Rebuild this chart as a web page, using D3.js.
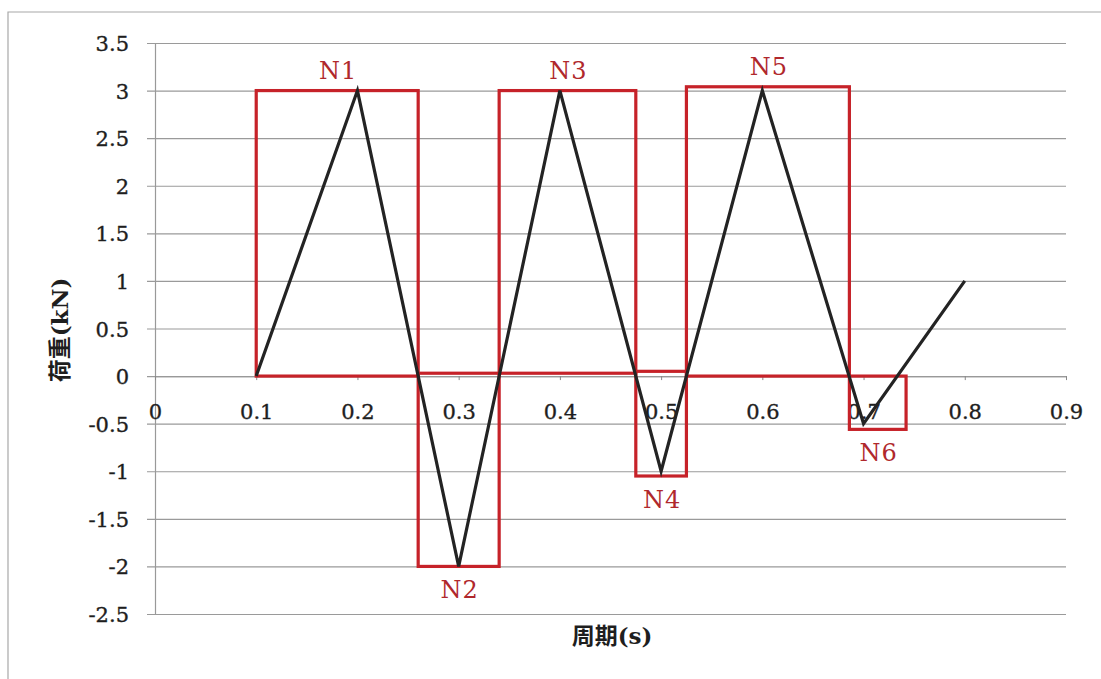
<!DOCTYPE html>
<html>
<head>
<meta charset="utf-8">
<script src="https://cdn.jsdelivr.net/npm/d3@7"></script>
<style>
  html, body { margin: 0; padding: 0; background: #fff; }
  svg { display: block; }
</style>
</head>
<body>
<script>
// Load history: time (s) and load (kN)
const times = [0.1, 0.2, 0.3, 0.4, 0.5, 0.6, 0.7, 0.8];
const loads = [0, 3, -2, 3, -1, 3, -0.5, 1];

// Axis ticks and their labels
const xTicks = [0, 0.1, 0.2, 0.3, 0.4, 0.5, 0.6, 0.7, 0.8, 0.9];
const xTickLabels = ["0", "0.1", "0.2", "0.3", "0.4", "0.5", "0.6", "0.7", "0.8", "0.9"];
const yTicks = [3.5, 3, 2.5, 2, 1.5, 1, 0.5, 0, -0.5, -1, -1.5, -2, -2.5];
const yTickLabels = ["3.5", "3", "2.5", "2", "1.5", "1", "0.5", "0", "-0.5", "-1", "-1.5", "-2", "-2.5"];

// Half-cycle windows N1..N6 (time span and load span)
const boxNames = ["N1", "N2", "N3", "N4", "N5", "N6"];
const boxT0 = [0.1, 0.26, 0.34, 0.475, 0.525, 0.686];
const boxT1 = [0.26, 0.34, 0.475, 0.525, 0.686, 0.742];
const boxLo = [0, -2, 0.03, -1.05, 0, -0.56];
const boxHi = [3, 0.03, 3, 0.05, 3.04, 0];
const boxAbove = [true, false, true, false, true, false];

const xTitle = "周期(s)";
const yTitle = "荷重(kN)";

const SERIF = '"DejaVu Serif", "Liberation Serif", serif';
const TITLE_FONT = '"DejaVu Serif", "Noto Sans CJK JP", serif';

const W = 1101, H = 679;
const svg = d3.select("body").append("svg").attr("width", W).attr("height", H);

const x = d3.scaleLinear().domain([0, 0.9]).range([155, 1066]);
const y = d3.scaleLinear().domain([-2.5, 3.5]).range([614, 43]);

// Chart frame
svg.append("path")
  .attr("d", `M8,${H} L8,12 L${W},12`)
  .attr("fill", "none").attr("stroke", "#a8a8a8").attr("stroke-width", 1.2);

// Horizontal gridlines with outside ticks (left axis)
const yAxis = d3.axisLeft(y)
  .tickValues(yTicks)
  .tickSize(-(x.range()[1] - x.range()[0]))
  .tickSizeOuter(0)
  .tickFormat((d, i) => yTickLabels[i]);
const gy = svg.append("g").attr("transform", `translate(${x.range()[0]},0)`).call(yAxis)
  .attr("font-family", null).attr("font-size", null);
gy.select(".domain").attr("stroke", "#999").attr("stroke-width", 1.2);
gy.selectAll(".tick line").attr("stroke", "#9a9a9a").attr("stroke-width", 1.1).attr("x1", -8);
gy.selectAll(".tick text").attr("x", -26).attr("dy", "0.36em")
  .style("font-family", SERIF).style("font-size", "21px").style("fill", "#1e1e1e")
  .style("stroke", "#1e1e1e").style("stroke-width", "0.35px");

// Horizontal axis along zero load
const xAxis = d3.axisBottom(x)
  .tickValues(xTicks)
  .tickSize(4)
  .tickSizeOuter(0)
  .tickFormat((d, i) => xTickLabels[i]);
const gx = svg.append("g").attr("transform", `translate(0,${y(0)})`).call(xAxis)
  .attr("font-family", null).attr("font-size", null);
gx.select(".domain").attr("stroke", "#999").attr("stroke-width", 1.2);
gx.selectAll(".tick line").attr("stroke", "#888");
gx.selectAll(".tick text").attr("y", 43).attr("dy", null)
  .style("font-family", SERIF).style("font-size", "21px").style("fill", "#1e1e1e")
  .style("stroke", "#1e1e1e").style("stroke-width", "0.35px");

// Red half-cycle boxes
const boxes = boxNames.map((n, i) => ({ n, t0: boxT0[i], t1: boxT1[i], lo: boxLo[i], hi: boxHi[i], above: boxAbove[i] }));
svg.append("g").selectAll("rect").data(boxes).join("rect")
  .attr("x", d => x(d.t0)).attr("y", d => y(d.hi))
  .attr("width", d => x(d.t1) - x(d.t0)).attr("height", d => y(d.lo) - y(d.hi))
  .attr("fill", "none").attr("stroke", "#c62229").attr("stroke-width", 3.2);

// Load curve
const pts = times.map((t, i) => [t, loads[i]]);
svg.append("path")
  .datum(pts)
  .attr("d", d3.line().x(d => x(d[0])).y(d => y(d[1])))
  .attr("fill", "none").attr("stroke", "#232323").attr("stroke-width", 3.2)
  .attr("stroke-linejoin", "miter");

// Box names
svg.append("g").selectAll("text").data(boxes).join("text")
  .attr("text-anchor", "middle")
  .style("font-family", SERIF).style("font-size", "24px").style("fill", "#b0282c")
  .style("letter-spacing", "1px")
  .attr("x", d => (x(d.t0) + x(d.t1)) / 2 + 1)
  .attr("y", d => d.above ? y(d.hi) - 12 : y(d.lo) + 32)
  .text(d => d.n);

// Axis titles
svg.append("text")
  .style("font-family", TITLE_FONT).style("font-size", "23px").style("font-weight", "bold").style("fill", "#1e1e1e")
  .attr("x", 612).attr("y", 644).attr("text-anchor", "middle")
  .text(xTitle);
svg.append("text")
  .style("font-family", TITLE_FONT).style("font-size", "23px").style("font-weight", "bold").style("fill", "#1e1e1e")
  .attr("transform", `translate(68,330) rotate(-90)`)
  .attr("text-anchor", "middle")
  .text(yTitle);
</script>
</body>
</html>
